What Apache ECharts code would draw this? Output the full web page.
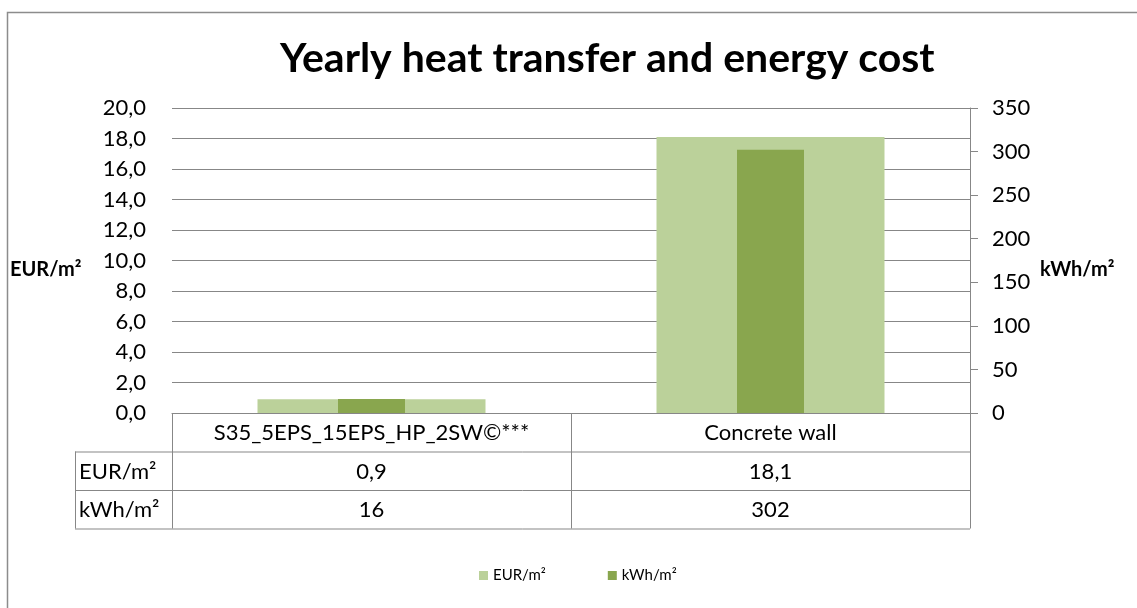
<!DOCTYPE html>
<html>
<head>
<meta charset="utf-8">
<script src="https://cdn.jsdelivr.net/npm/echarts@6/dist/echarts.min.js"></script>
<style>
  html, body { margin: 0; padding: 0; background: #fff; }
  #chart { width: 1137px; height: 608px; }
</style>
</head>
<body>
<div id="chart"></div>
<script>
// data
const categories = ['S35_5EPS_15EPS_HP_2SW©***', 'Concrete wall'];
const costValues = [0.9, 18.1];      // EUR/m²
const energyValues = [16, 302];      // kWh/m²
const seriesNames = ['EUR/m²', 'kWh/m²'];

const font = 'Lato, "Open Sans", sans-serif';
const lineGray = '#878787';
const lightGreen = '#bbd19a';
const darkGreen = '#89a64e';

// plot area in px
const plotL = 172, plotR = 970, plotT = 108, plotB = 413;
const rowH = 38.5;
const tableL = 75;
const fs = 22;

const fmtComma = (v, d) => v.toFixed(d).replace('.', ',');

const chartDom = document.getElementById('chart');
const chart = echarts.init(chartDom);

// data table under the axis
const tableGraphics = [];
const colW = (plotR - plotL) / categories.length;
const hline = (y, x1, x2) => ({
  type: 'line', silent: true,
  shape: { x1: x1, y1: y, x2: x2, y2: y },
  style: { stroke: lineGray, lineWidth: 1 }
});
const vline = (x, y1, y2) => ({
  type: 'line', silent: true,
  shape: { x1: x, y1: y1, x2: x, y2: y2 },
  style: { stroke: lineGray, lineWidth: 1 }
});
const tableBottom = plotB + rowH * 3;
tableGraphics.push(hline(plotB + rowH + 0.5, tableL, plotR));
tableGraphics.push(hline(plotB + rowH * 2 + 0.5, tableL, plotR));
tableGraphics.push(hline(tableBottom + 0.5, tableL, plotR));
tableGraphics.push(vline(tableL + 0.5, plotB + rowH, tableBottom));
for (let i = 0; i <= categories.length; i++) {
  tableGraphics.push(vline(plotL + colW * i + 0.5, plotB, tableBottom));
}
const rows = [
  { name: seriesNames[0], vals: costValues.map(v => fmtComma(v, 1)) },
  { name: seriesNames[1], vals: energyValues.map(v => String(v)) }
];
rows.forEach((r, ri) => {
  const cy = plotB + rowH * (ri + 1) + rowH / 2 + 1;
  tableGraphics.push({
    type: 'text', x: tableL + 4, y: cy,
    style: { text: r.name, font: fs + 'px ' + font, fill: '#000', verticalAlign: 'middle' }
  });
  r.vals.forEach((v, ci) => {
    tableGraphics.push({
      type: 'text', x: plotL + colW * (ci + 0.5), y: cy,
      style: { text: v, font: fs + 'px ' + font, fill: '#000', align: 'center', verticalAlign: 'middle' }
    });
  });
});

const option = {
  backgroundColor: '#fff',
  animation: false,
  title: {
    text: 'Yearly heat transfer and energy cost',
    left: 275,
    top: 33,
    textStyle: { fontFamily: font, fontSize: 41, fontWeight: 'bold', color: '#000' }
  },
  legend: {
    left: 474,
    top: 563,
    itemWidth: 9,
    itemHeight: 9,
    itemGap: 62,
    icon: 'rect',
    data: seriesNames,
    textStyle: { fontFamily: font, fontSize: 15, color: '#000' }
  },
  grid: { left: plotL, right: 1137 - plotR, top: plotT, bottom: 608 - plotB },
  xAxis: [
    {
      type: 'category',
      data: categories,
      axisLine: { show: true, lineStyle: { color: lineGray } },
      axisTick: { show: false },
      axisLabel: { interval: 0, margin: 9, fontFamily: font, fontSize: fs, color: '#000' }
    },
    {
      type: 'category',
      data: categories,
      show: false
    }
  ],
  yAxis: [
    {
      type: 'value',
      min: 0, max: 20, interval: 2,
      axisLine: { show: false },
      axisTick: { show: false },
      splitLine: { lineStyle: { color: lineGray } },
      axisLabel: { margin: 26, fontFamily: font, fontSize: fs, color: '#000', formatter: v => fmtComma(v, 1) }
    },
    {
      type: 'value',
      min: 0, max: 350, interval: 50,
      position: 'right',
      axisLine: { show: true, lineStyle: { color: lineGray } },
      axisTick: { show: true, length: 8, inside: false, lineStyle: { color: lineGray } },
      splitLine: { show: false },
      axisLabel: { margin: 22, fontFamily: font, fontSize: fs, color: '#000' }
    }
  ],
  graphic: [
    { type: 'text', x: 10, y: 270, style: { text: 'EUR/m²', font: 'bold 20px ' + font, fill: '#000', verticalAlign: 'middle' } },
    { type: 'text', x: 1040, y: 270, style: { text: 'kWh/m²', font: 'bold 20px ' + font, fill: '#000', verticalAlign: 'middle' } },
    { type: 'rect', silent: true, shape: { x: 7.5, y: 12.5, width: 1140, height: 610 }, style: { fill: 'none', stroke: '#8c8c8c', lineWidth: 1.5 } },
    ...tableGraphics
  ],
  series: [
    {
      name: seriesNames[0],
      type: 'bar',
      xAxisIndex: 0,
      yAxisIndex: 0,
      data: costValues,
      barWidth: 228,
      itemStyle: { color: lightGreen }
    },
    {
      name: seriesNames[1],
      type: 'bar',
      xAxisIndex: 1,
      yAxisIndex: 1,
      data: energyValues,
      barWidth: 67,
      itemStyle: { color: darkGreen }
    }
  ]
};

chart.setOption(option);
</script>
</body>
</html>
